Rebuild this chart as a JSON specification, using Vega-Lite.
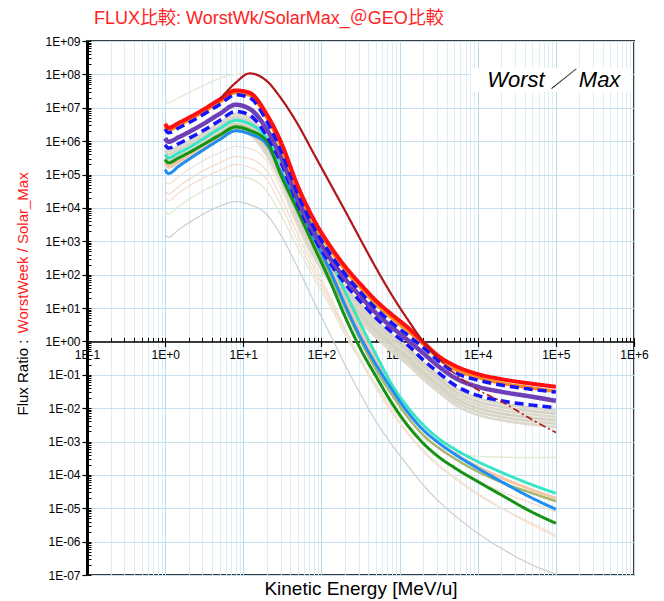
{
  "$schema": "https://vega.github.io/schema/vega-lite/v6.json",
  "width": 547,
  "height": 534,
  "autosize": {"type": "none"},
  "padding": {"left": 87, "top": 41, "right": 30, "bottom": 26},
  "background": "white",
  "config": {
    "view": {"stroke": "#3a3a3a", "strokeWidth": 2},
    "font": "Liberation Sans"
  },
  "title": {
    "text": "FLUX比較: WorstWk/SolarMax_＠GEO比較",
    "anchor": "start",
    "frame": "group",
    "dx": 7,
    "offset": 7,
    "color": "#ff2222",
    "fontSize": 18,
    "fontWeight": "normal",
    "font": "Liberation Sans, Noto Sans CJK JP"
  },
  "datasets": {
    "curves": [
      {"s":"thin","e":1,"v":1580},{"s":"thin","e":1.1,"v":1320},{"s":"thin","e":1.5,"v":2240},{"s":"thin","e":2,"v":3550},{"s":"thin","e":3,"v":6310},{"s":"thin","e":5,"v":11200},{"s":"thin","e":8,"v":15500},{"s":"thin","e":12,"v":12600},{"s":"thin","e":20,"v":6310},{"s":"thin","e":30,"v":1580},{"s":"thin","e":50,"v":158},{"s":"thin","e":80,"v":15.8},{"s":"thin","e":130,"v":1.58},{"s":"thin","e":200,"v":0.2},{"s":"thin","e":320,"v":0.0251},{"s":"thin","e":500,"v":0.00398},{"s":"thin","e":800,"v":7.94e-4},{"s":"thin","e":1300,"v":1.78e-4},{"s":"thin","e":2000,"v":5.01e-5},{"s":"thin","e":3200,"v":1.58e-5},{"s":"thin","e":5000,"v":6.31e-6},{"s":"thin","e":10000,"v":1.78e-6},{"s":"thin","e":20000,"v":6.31e-7},{"s":"thin","e":50000,"v":2.0e-7},{"s":"thin","e":100000,"v":1.05e-7},

      {"s":"f4","e":1,"v":2.0e4},{"s":"f4","e":1.1,"v":1.66e4},{"s":"f4","e":1.5,"v":2.82e4},{"s":"f4","e":2,"v":4.47e4},{"s":"f4","e":3,"v":7.59e4},{"s":"f4","e":5,"v":1.32e5},{"s":"f4","e":8,"v":2.0e5},{"s":"f4","e":12,"v":1.66e5},{"s":"f4","e":20,"v":7.08e4},{"s":"f4","e":30,"v":1.26e4},{"s":"f4","e":50,"v":1000},{"s":"f4","e":80,"v":112},{"s":"f4","e":130,"v":14.1},{"s":"f4","e":200,"v":2.0},{"s":"f4","e":320,"v":0.251},{"s":"f4","e":500,"v":0.0398},{"s":"f4","e":800,"v":0.00708},{"s":"f4","e":1300,"v":0.00158},{"s":"f4","e":2000,"v":5.01e-4},{"s":"f4","e":3200,"v":1.78e-4},{"s":"f4","e":5000,"v":7.94e-5},{"s":"f4","e":10000,"v":2.51e-5},{"s":"f4","e":20000,"v":1.0e-5},{"s":"f4","e":50000,"v":3.16e-6},{"s":"f4","e":100000,"v":1.41e-6},

      {"s":"f3","e":1,"v":3.16e4},{"s":"f3","e":1.1,"v":2.63e4},{"s":"f3","e":1.5,"v":4.47e4},{"s":"f3","e":2,"v":7.08e4},{"s":"f3","e":3,"v":1.26e5},{"s":"f3","e":5,"v":2.24e5},{"s":"f3","e":8,"v":3.47e5},{"s":"f3","e":12,"v":3.02e5},{"s":"f3","e":20,"v":1.26e5},{"s":"f3","e":30,"v":2.24e4},{"s":"f3","e":50,"v":1580},{"s":"f3","e":80,"v":158},{"s":"f3","e":130,"v":17.8},{"s":"f3","e":200,"v":2.24},{"s":"f3","e":320,"v":0.282},{"s":"f3","e":500,"v":0.0501},{"s":"f3","e":800,"v":0.01},{"s":"f3","e":1300,"v":0.00251},{"s":"f3","e":2000,"v":8.91e-4},{"s":"f3","e":3200,"v":3.55e-4},{"s":"f3","e":5000,"v":1.78e-4},{"s":"f3","e":10000,"v":7.08e-5},{"s":"f3","e":20000,"v":3.16e-5},{"s":"f3","e":50000,"v":1.41e-5},{"s":"f3","e":100000,"v":7.94e-6},

      {"s":"f5","e":1,"v":7940},{"s":"f5","e":1.1,"v":6610},{"s":"f5","e":1.5,"v":1.12e4},{"s":"f5","e":2,"v":1.78e4},{"s":"f5","e":3,"v":3.16e4},{"s":"f5","e":5,"v":5.62e4},{"s":"f5","e":8,"v":8.71e4},{"s":"f5","e":12,"v":7.59e4},{"s":"f5","e":20,"v":3.16e4},{"s":"f5","e":30,"v":6310},{"s":"f5","e":50,"v":631},{"s":"f5","e":80,"v":79.4},{"s":"f5","e":130,"v":11.2},{"s":"f5","e":200,"v":1.58},{"s":"f5","e":320,"v":0.251},{"s":"f5","e":500,"v":0.0501},{"s":"f5","e":800,"v":0.0112},{"s":"f5","e":1300,"v":0.00316},{"s":"f5","e":2000,"v":0.00126},{"s":"f5","e":3200,"v":6.76e-4},{"s":"f5","e":5000,"v":4.68e-4},{"s":"f5","e":10000,"v":3.63e-4},{"s":"f5","e":20000,"v":3.39e-4},{"s":"f5","e":50000,"v":3.31e-4},{"s":"f5","e":100000,"v":3.31e-4},

      {"s":"f2","e":1,"v":6.31e4},{"s":"f2","e":1.1,"v":5.25e4},{"s":"f2","e":1.5,"v":8.91e4},{"s":"f2","e":2,"v":1.41e5},{"s":"f2","e":3,"v":2.51e5},{"s":"f2","e":5,"v":4.47e5},{"s":"f2","e":8,"v":6.92e5},{"s":"f2","e":12,"v":6.03e5},{"s":"f2","e":20,"v":2.51e5},{"s":"f2","e":30,"v":3.98e4},{"s":"f2","e":50,"v":2510},{"s":"f2","e":80,"v":224},{"s":"f2","e":130,"v":22.4},{"s":"f2","e":200,"v":2.51},{"s":"f2","e":320,"v":0.282},{"s":"f2","e":500,"v":0.0447},{"s":"f2","e":800,"v":0.00794},{"s":"f2","e":1300,"v":0.00178},{"s":"f2","e":2000,"v":5.62e-4},{"s":"f2","e":3200,"v":2.0e-4},{"s":"f2","e":5000,"v":8.91e-5},{"s":"f2","e":10000,"v":2.82e-5},{"s":"f2","e":20000,"v":1.05e-5},{"s":"f2","e":50000,"v":3.55e-6},{"s":"f2","e":100000,"v":1.58e-6},

      {"s":"f1","e":1,"v":1.74e7},{"s":"f1","e":1.1,"v":1.41e7},{"s":"f1","e":1.5,"v":2.0e7},{"s":"f1","e":2,"v":2.82e7},{"s":"f1","e":3,"v":4.47e7},{"s":"f1","e":5,"v":7.59e7},{"s":"f1","e":8,"v":1.0e8},{"s":"f1","e":12,"v":1.05e8},{"s":"f1","e":20,"v":6.31e7},{"s":"f1","e":30,"v":2.0e7},{"s":"f1","e":50,"v":3.16e6},{"s":"f1","e":80,"v":4.17e5},{"s":"f1","e":130,"v":5.25e4},{"s":"f1","e":200,"v":8320},{"s":"f1","e":320,"v":1070},{"s":"f1","e":500,"v":158},{"s":"f1","e":800,"v":24.0},{"s":"f1","e":1300,"v":4.17},{"s":"f1","e":2000,"v":0.708},{"s":"f1","e":3200,"v":0.251},{"s":"f1","e":5000,"v":0.112},{"s":"f1","e":10000,"v":0.0501},{"s":"f1","e":20000,"v":0.0316},{"s":"f1","e":50000,"v":0.02},{"s":"f1","e":100000,"v":0.0141},

      {"s":"g1","e":1,"v":6.46e5},{"s":"g1","e":1.1,"v":5.13e5},{"s":"g1","e":1.5,"v":7.08e5},{"s":"g1","e":2,"v":1.0e6},{"s":"g1","e":3,"v":1.66e6},{"s":"g1","e":5,"v":3.47e6},{"s":"g1","e":8,"v":6.46e6},{"s":"g1","e":12,"v":5.01e6},{"s":"g1","e":20,"v":1.17e6},{"s":"g1","e":30,"v":2.0e5},{"s":"g1","e":50,"v":1.05e4},{"s":"g1","e":80,"v":1100},{"s":"g1","e":130,"v":178},{"s":"g1","e":200,"v":44.7},{"s":"g1","e":320,"v":12.6},{"s":"g1","e":500,"v":4.17},{"s":"g1","e":800,"v":1.55},{"s":"g1","e":1300,"v":0.617},{"s":"g1","e":2000,"v":0.234},{"s":"g1","e":3200,"v":0.0933},{"s":"g1","e":5000,"v":0.0417},{"s":"g1","e":10000,"v":0.02},{"s":"g1","e":20000,"v":0.0138},{"s":"g1","e":50000,"v":0.0102},{"s":"g1","e":100000,"v":0.00851},

      {"s":"g2","e":1,"v":5.13e5},{"s":"g2","e":1.1,"v":4.07e5},{"s":"g2","e":1.5,"v":5.62e5},{"s":"g2","e":2,"v":7.94e5},{"s":"g2","e":3,"v":1.32e6},{"s":"g2","e":5,"v":2.75e6},{"s":"g2","e":8,"v":5.13e6},{"s":"g2","e":12,"v":3.98e6},{"s":"g2","e":20,"v":9.33e5},{"s":"g2","e":30,"v":1.58e5},{"s":"g2","e":50,"v":8320},{"s":"g2","e":80,"v":871},{"s":"g2","e":130,"v":141},{"s":"g2","e":200,"v":35.5},{"s":"g2","e":320,"v":10.0},{"s":"g2","e":500,"v":3.31},{"s":"g2","e":800,"v":1.23},{"s":"g2","e":1300,"v":0.49},{"s":"g2","e":2000,"v":0.186},{"s":"g2","e":3200,"v":0.0741},{"s":"g2","e":5000,"v":0.0331},{"s":"g2","e":10000,"v":0.0158},{"s":"g2","e":20000,"v":0.011},{"s":"g2","e":50000,"v":0.00813},{"s":"g2","e":100000,"v":0.00676},

      {"s":"g3","e":1,"v":4.07e5},{"s":"g3","e":1.1,"v":3.24e5},{"s":"g3","e":1.5,"v":4.47e5},{"s":"g3","e":2,"v":6.31e5},{"s":"g3","e":3,"v":1.05e6},{"s":"g3","e":5,"v":2.19e6},{"s":"g3","e":8,"v":4.07e6},{"s":"g3","e":12,"v":3.16e6},{"s":"g3","e":20,"v":7.41e5},{"s":"g3","e":30,"v":1.26e5},{"s":"g3","e":50,"v":6610},{"s":"g3","e":80,"v":692},{"s":"g3","e":130,"v":112},{"s":"g3","e":200,"v":28.2},{"s":"g3","e":320,"v":7.94},{"s":"g3","e":500,"v":2.63},{"s":"g3","e":800,"v":0.977},{"s":"g3","e":1300,"v":0.389},{"s":"g3","e":2000,"v":0.148},{"s":"g3","e":3200,"v":0.0589},{"s":"g3","e":5000,"v":0.0263},{"s":"g3","e":10000,"v":0.0126},{"s":"g3","e":20000,"v":0.00871},{"s":"g3","e":50000,"v":0.00646},{"s":"g3","e":100000,"v":0.00537},

      {"s":"g4","e":1,"v":3.24e5},{"s":"g4","e":1.1,"v":2.57e5},{"s":"g4","e":1.5,"v":3.55e5},{"s":"g4","e":2,"v":5.01e5},{"s":"g4","e":3,"v":8.32e5},{"s":"g4","e":5,"v":1.74e6},{"s":"g4","e":8,"v":3.24e6},{"s":"g4","e":12,"v":2.51e6},{"s":"g4","e":20,"v":5.89e5},{"s":"g4","e":30,"v":1.0e5},{"s":"g4","e":50,"v":5250},{"s":"g4","e":80,"v":550},{"s":"g4","e":130,"v":89.1},{"s":"g4","e":200,"v":22.4},{"s":"g4","e":320,"v":6.31},{"s":"g4","e":500,"v":2.09},{"s":"g4","e":800,"v":0.776},{"s":"g4","e":1300,"v":0.309},{"s":"g4","e":2000,"v":0.117},{"s":"g4","e":3200,"v":0.0468},{"s":"g4","e":5000,"v":0.0209},{"s":"g4","e":10000,"v":0.01},{"s":"g4","e":20000,"v":0.00692},{"s":"g4","e":50000,"v":0.00513},{"s":"g4","e":100000,"v":0.00427},

      {"s":"g5","e":1,"v":2.57e5},{"s":"g5","e":1.1,"v":2.04e5},{"s":"g5","e":1.5,"v":2.82e5},{"s":"g5","e":2,"v":3.98e5},{"s":"g5","e":3,"v":6.61e5},{"s":"g5","e":5,"v":1.38e6},{"s":"g5","e":8,"v":2.57e6},{"s":"g5","e":12,"v":2.0e6},{"s":"g5","e":20,"v":4.68e5},{"s":"g5","e":30,"v":7.94e4},{"s":"g5","e":50,"v":4170},{"s":"g5","e":80,"v":437},{"s":"g5","e":130,"v":70.8},{"s":"g5","e":200,"v":17.8},{"s":"g5","e":320,"v":5.01},{"s":"g5","e":500,"v":1.66},{"s":"g5","e":800,"v":0.617},{"s":"g5","e":1300,"v":0.245},{"s":"g5","e":2000,"v":0.0933},{"s":"g5","e":3200,"v":0.0372},{"s":"g5","e":5000,"v":0.0166},{"s":"g5","e":10000,"v":0.00794},{"s":"g5","e":20000,"v":0.0055},{"s":"g5","e":50000,"v":0.00407},{"s":"g5","e":100000,"v":0.00339},

      {"s":"g6","e":1,"v":2.04e5},{"s":"g6","e":1.1,"v":1.62e5},{"s":"g6","e":1.5,"v":2.24e5},{"s":"g6","e":2,"v":3.16e5},{"s":"g6","e":3,"v":5.25e5},{"s":"g6","e":5,"v":1.1e6},{"s":"g6","e":8,"v":2.04e6},{"s":"g6","e":12,"v":1.58e6},{"s":"g6","e":20,"v":3.72e5},{"s":"g6","e":30,"v":6.31e4},{"s":"g6","e":50,"v":3310},{"s":"g6","e":80,"v":347},{"s":"g6","e":130,"v":56.2},{"s":"g6","e":200,"v":14.1},{"s":"g6","e":320,"v":3.98},{"s":"g6","e":500,"v":1.32},{"s":"g6","e":800,"v":0.49},{"s":"g6","e":1300,"v":0.195},{"s":"g6","e":2000,"v":0.0741},{"s":"g6","e":3200,"v":0.0295},{"s":"g6","e":5000,"v":0.0132},{"s":"g6","e":10000,"v":0.00631},{"s":"g6","e":20000,"v":0.00437},{"s":"g6","e":50000,"v":0.00324},{"s":"g6","e":100000,"v":0.00269},

      {"s":"pe","e":1,"v":2.24e5},{"s":"pe","e":1.1,"v":1.78e5},{"s":"pe","e":1.5,"v":2.51e5},{"s":"pe","e":2,"v":3.55e5},{"s":"pe","e":3,"v":6.03e5},{"s":"pe","e":5,"v":1.2e6},{"s":"pe","e":8,"v":2.09e6},{"s":"pe","e":12,"v":1.66e6},{"s":"pe","e":20,"v":7.08e5},{"s":"pe","e":30,"v":1.41e5},{"s":"pe","e":50,"v":1.58e4},{"s":"pe","e":80,"v":1780},{"s":"pe","e":130,"v":200},{"s":"pe","e":200,"v":20.0},{"s":"pe","e":320,"v":2.0},{"s":"pe","e":500,"v":0.251},{"s":"pe","e":800,"v":0.0355},{"s":"pe","e":1300,"v":0.00708},{"s":"pe","e":2000,"v":0.00224},{"s":"pe","e":3200,"v":8.91e-4},{"s":"pe","e":5000,"v":4.47e-4},{"s":"pe","e":10000,"v":1.78e-4},{"s":"pe","e":20000,"v":8.32e-5},{"s":"pe","e":50000,"v":3.55e-5},{"s":"pe","e":100000,"v":2.0e-5},

      {"s":"k","e":1,"v":2.82e5},{"s":"k","e":1.1,"v":2.24e5},{"s":"k","e":1.5,"v":3.16e5},{"s":"k","e":2,"v":4.47e5},{"s":"k","e":3,"v":7.94e5},{"s":"k","e":5,"v":1.58e6},{"s":"k","e":8,"v":2.82e6},{"s":"k","e":12,"v":2.24e6},{"s":"k","e":20,"v":8.91e5},{"s":"k","e":30,"v":1.12e5},{"s":"k","e":50,"v":1.0e4},{"s":"k","e":80,"v":1000},{"s":"k","e":130,"v":100},{"s":"k","e":200,"v":10},{"s":"k","e":320,"v":1.0},{"s":"k","e":500,"v":0.141},{"s":"k","e":800,"v":0.0251},{"s":"k","e":1300,"v":0.00501},{"s":"k","e":2000,"v":0.00158},{"s":"k","e":3200,"v":6.31e-4},{"s":"k","e":5000,"v":3.16e-4},{"s":"k","e":10000,"v":1.26e-4},{"s":"k","e":20000,"v":6.03e-5},{"s":"k","e":50000,"v":2.82e-5},{"s":"k","e":100000,"v":1.62e-5},

      {"s":"t","e":1,"v":3.98e5},{"s":"t","e":1.1,"v":3.16e5},{"s":"t","e":1.5,"v":4.47e5},{"s":"t","e":2,"v":6.31e5},{"s":"t","e":3,"v":1.12e6},{"s":"t","e":5,"v":2.4e6},{"s":"t","e":8,"v":4.17e6},{"s":"t","e":12,"v":3.31e6},{"s":"t","e":20,"v":1.26e6},{"s":"t","e":30,"v":2.24e5},{"s":"t","e":50,"v":2.24e4},{"s":"t","e":80,"v":2510},{"s":"t","e":130,"v":282},{"s":"t","e":200,"v":31.6},{"s":"t","e":320,"v":3.16},{"s":"t","e":500,"v":0.398},{"s":"t","e":800,"v":0.0501},{"s":"t","e":1300,"v":0.01},{"s":"t","e":2000,"v":0.00316},{"s":"t","e":3200,"v":0.0012},{"s":"t","e":5000,"v":6.03e-4},{"s":"t","e":10000,"v":2.51e-4},{"s":"t","e":20000,"v":1.2e-4},{"s":"t","e":50000,"v":5.01e-5},{"s":"t","e":100000,"v":2.82e-5},

      {"s":"db","e":1,"v":1.41e5},{"s":"db","e":1.1,"v":1.07e5},{"s":"db","e":1.5,"v":1.78e5},{"s":"db","e":2,"v":2.82e5},{"s":"db","e":3,"v":5.25e5},{"s":"db","e":5,"v":1.12e6},{"s":"db","e":8,"v":2.04e6},{"s":"db","e":12,"v":1.66e6},{"s":"db","e":20,"v":7.94e5},{"s":"db","e":30,"v":1.26e5},{"s":"db","e":50,"v":1.26e4},{"s":"db","e":80,"v":1260},{"s":"db","e":130,"v":126},{"s":"db","e":200,"v":12.6},{"s":"db","e":320,"v":1.26},{"s":"db","e":500,"v":0.2},{"s":"db","e":800,"v":0.0355},{"s":"db","e":1300,"v":0.00708},{"s":"db","e":2000,"v":0.00224},{"s":"db","e":3200,"v":8.91e-4},{"s":"db","e":5000,"v":4.27e-4},{"s":"db","e":10000,"v":1.58e-4},{"s":"db","e":20000,"v":6.31e-5},{"s":"db","e":50000,"v":2.0e-5},{"s":"db","e":100000,"v":9.33e-6},

      {"s":"gr","e":1,"v":2.82e5},{"s":"gr","e":1.1,"v":2.24e5},{"s":"gr","e":1.5,"v":3.16e5},{"s":"gr","e":2,"v":4.47e5},{"s":"gr","e":3,"v":7.59e5},{"s":"gr","e":5,"v":1.51e6},{"s":"gr","e":8,"v":2.63e6},{"s":"gr","e":12,"v":2.09e6},{"s":"gr","e":20,"v":1.0e6},{"s":"gr","e":30,"v":1.0e5},{"s":"gr","e":50,"v":7940},{"s":"gr","e":80,"v":708},{"s":"gr","e":130,"v":60.3},{"s":"gr","e":200,"v":5.62},{"s":"gr","e":320,"v":0.562},{"s":"gr","e":500,"v":0.0891},{"s":"gr","e":800,"v":0.0141},{"s":"gr","e":1300,"v":0.00282},{"s":"gr","e":2000,"v":8.91e-4},{"s":"gr","e":3200,"v":3.39e-4},{"s":"gr","e":5000,"v":1.66e-4},{"s":"gr","e":10000,"v":6.31e-5},{"s":"gr","e":20000,"v":2.51e-5},{"s":"gr","e":50000,"v":7.59e-6},{"s":"gr","e":100000,"v":3.55e-6},

      {"s":"b2","e":1,"v":7.76e5},{"s":"b2","e":1.1,"v":6.17e5},{"s":"b2","e":1.5,"v":8.51e5},{"s":"b2","e":2,"v":1.2e6},{"s":"b2","e":3,"v":2.0e6},{"s":"b2","e":5,"v":4.17e6},{"s":"b2","e":8,"v":7.76e6},{"s":"b2","e":12,"v":6.03e6},{"s":"b2","e":20,"v":1.41e6},{"s":"b2","e":30,"v":2.4e5},{"s":"b2","e":50,"v":1.26e4},{"s":"b2","e":80,"v":1320},{"s":"b2","e":130,"v":214},{"s":"b2","e":200,"v":53.7},{"s":"b2","e":320,"v":15.1},{"s":"b2","e":500,"v":5.01},{"s":"b2","e":800,"v":1.86},{"s":"b2","e":1300,"v":0.741},{"s":"b2","e":2000,"v":0.282},{"s":"b2","e":3200,"v":0.112},{"s":"b2","e":5000,"v":0.0501},{"s":"b2","e":10000,"v":0.024},{"s":"b2","e":20000,"v":0.0166},{"s":"b2","e":50000,"v":0.0123},{"s":"b2","e":100000,"v":0.0102},

      {"s":"p","e":1,"v":1.23e6},{"s":"p","e":1.1,"v":9.55e5},{"s":"p","e":1.5,"v":1.32e6},{"s":"p","e":2,"v":1.86e6},{"s":"p","e":3,"v":3.16e6},{"s":"p","e":5,"v":6.61e6},{"s":"p","e":8,"v":1.23e7},{"s":"p","e":12,"v":9.33e6},{"s":"p","e":20,"v":2.24e6},{"s":"p","e":30,"v":3.55e5},{"s":"p","e":50,"v":1.78e4},{"s":"p","e":80,"v":1860},{"s":"p","e":130,"v":302},{"s":"p","e":200,"v":75.9},{"s":"p","e":320,"v":21.4},{"s":"p","e":500,"v":7.08},{"s":"p","e":800,"v":2.63},{"s":"p","e":1300,"v":1.05},{"s":"p","e":2000,"v":0.447},{"s":"p","e":3200,"v":0.174},{"s":"p","e":5000,"v":0.0832},{"s":"p","e":10000,"v":0.0437},{"s":"p","e":20000,"v":0.0309},{"s":"p","e":50000,"v":0.0219},{"s":"p","e":100000,"v":0.0166},

      {"s":"o","e":1,"v":2.82e6},{"s":"o","e":1.1,"v":2.14e6},{"s":"o","e":1.5,"v":3.02e6},{"s":"o","e":2,"v":4.27e6},{"s":"o","e":3,"v":7.24e6},{"s":"o","e":5,"v":1.51e7},{"s":"o","e":8,"v":2.82e7},{"s":"o","e":12,"v":2.4e7},{"s":"o","e":20,"v":5.01e6},{"s":"o","e":30,"v":7.59e5},{"s":"o","e":50,"v":3.55e4},{"s":"o","e":80,"v":3550},{"s":"o","e":130,"v":562},{"s":"o","e":200,"v":141},{"s":"o","e":320,"v":39.8},{"s":"o","e":500,"v":13.2},{"s":"o","e":800,"v":5.01},{"s":"o","e":1300,"v":2.0},{"s":"o","e":2000,"v":0.832},{"s":"o","e":3200,"v":0.302},{"s":"o","e":5000,"v":0.151},{"s":"o","e":10000,"v":0.0832},{"s":"o","e":20000,"v":0.0562},{"s":"o","e":50000,"v":0.0398},{"s":"o","e":100000,"v":0.0316},

      {"s":"b1","e":1,"v":2.34e6},{"s":"b1","e":1.1,"v":1.78e6},{"s":"b1","e":1.5,"v":2.51e6},{"s":"b1","e":2,"v":3.55e6},{"s":"b1","e":3,"v":6.03e6},{"s":"b1","e":5,"v":1.26e7},{"s":"b1","e":8,"v":2.45e7},{"s":"b1","e":12,"v":2.0e7},{"s":"b1","e":20,"v":3.98e6},{"s":"b1","e":30,"v":5.62e5},{"s":"b1","e":50,"v":2.63e4},{"s":"b1","e":80,"v":2630},{"s":"b1","e":130,"v":417},{"s":"b1","e":200,"v":105},{"s":"b1","e":320,"v":28.8},{"s":"b1","e":500,"v":9.55},{"s":"b1","e":800,"v":3.55},{"s":"b1","e":1300,"v":1.48},{"s":"b1","e":2000,"v":0.661},{"s":"b1","e":3200,"v":0.251},{"s":"b1","e":5000,"v":0.12},{"s":"b1","e":10000,"v":0.0692},{"s":"b1","e":20000,"v":0.049},{"s":"b1","e":50000,"v":0.0363},{"s":"b1","e":100000,"v":0.0302},

      {"s":"r","e":1,"v":3.31e6},{"s":"r","e":1.1,"v":2.51e6},{"s":"r","e":1.5,"v":3.55e6},{"s":"r","e":2,"v":5.01e6},{"s":"r","e":3,"v":8.51e6},{"s":"r","e":5,"v":1.78e7},{"s":"r","e":8,"v":3.31e7},{"s":"r","e":12,"v":2.82e7},{"s":"r","e":20,"v":6.31e6},{"s":"r","e":30,"v":1.0e6},{"s":"r","e":50,"v":4.47e4},{"s":"r","e":80,"v":4470},{"s":"r","e":130,"v":708},{"s":"r","e":200,"v":178},{"s":"r","e":320,"v":50.1},{"s":"r","e":500,"v":16.6},{"s":"r","e":800,"v":6.31},{"s":"r","e":1300,"v":2.51},{"s":"r","e":2000,"v":0.955},{"s":"r","e":3200,"v":0.355},{"s":"r","e":5000,"v":0.191},{"s":"r","e":10000,"v":0.105},{"s":"r","e":20000,"v":0.0741},{"s":"r","e":50000,"v":0.0537},{"s":"r","e":100000,"v":0.0437},

      {"s":"m","e":5,"v":1.78e7},{"s":"m","e":8,"v":5.62e7},{"s":"m","e":12,"v":1.07e8},{"s":"m","e":20,"v":6.31e7},{"s":"m","e":30,"v":2.0e7},{"s":"m","e":50,"v":3.16e6},{"s":"m","e":80,"v":4.17e5},{"s":"m","e":130,"v":5.25e4},{"s":"m","e":200,"v":8320},{"s":"m","e":320,"v":1070},{"s":"m","e":500,"v":158},{"s":"m","e":800,"v":24.0},{"s":"m","e":1300,"v":4.17},{"s":"m","e":2000,"v":1.0},{"s":"m","e":3200,"v":0.302},

      {"s":"md","e":3200,"v":0.302},{"s":"md","e":5000,"v":0.112},{"s":"md","e":10000,"v":0.0355},{"s":"md","e":20000,"v":0.0158},{"s":"md","e":50000,"v":0.00447},{"s":"md","e":100000,"v":0.00186}
    ],
    "box": [
      {"e0": 8100, "e1": 910000, "v0": 2.95e7, "v1": 1.55e8}
    ],
    "note": [
      {"e": 94000, "v": 6.8e7, "label": "Worst ／ Max"}
    ]
  },
  "layer": [
    {
      "data": {"name": "curves"},
      "mark": {"type": "line", "interpolate": "monotone", "clip": true},
      "encoding": {
        "x": {
          "field": "e", "type": "quantitative",
          "scale": {"type": "log", "domain": [0.1, 1000000], "nice": false},
          "axis": {
            "orient": "bottom",
            "offset": -233.6,
            "values": [0.1, 1, 10, 100, 1000, 10000, 100000, 1000000],
            "labelExpr": "'1E' + (round(log(datum.value)/LN10) < 0 ? '-' : '+') + abs(round(log(datum.value)/LN10))",
            "grid": false,
            "tickSize": 5,
            "tickColor": "#000",
            "tickWidth": 1.2,
            "domainColor": "#000",
            "domainWidth": 1.5,
            "labelFont": "Liberation Sans",
            "labelFontSize": 12,
            "labelColor": "#000",
            "labelPadding": 3,
            "labelOverlap": false,
            "labelFlush": false,
            "labelBound": false,
            "title": "Kinetic Energy [MeV/u]",
            "titleFont": "Liberation Sans",
            "titleFontSize": 19,
            "titleFontWeight": "normal",
            "titleColor": "#000",
            "titleBaseline": "top",
            "titleY": 238
          }
        },
        "y": {
          "field": "v", "type": "quantitative",
          "scale": {"type": "log", "domain": [1e-7, 1e9], "nice": false},
          "axis": {
            "orient": "left",
            "values": [1e-7, 1e-6, 1e-5, 1e-4, 1e-3, 1e-2, 1e-1, 1, 10, 100, 1000, 10000, 100000, 1000000, 10000000, 100000000, 1000000000],
            "labelExpr": "'1E' + (round(log(datum.value)/LN10) < 0 ? '-' : '+') + (abs(round(log(datum.value)/LN10)) < 10 ? '0' : '') + abs(round(log(datum.value)/LN10))",
            "grid": true,
            "gridColor": "#c4e1ed",
            "gridWidth": 1,
            "tickSize": 5,
            "tickColor": "#000",
            "tickWidth": 1.2,
            "domainColor": "#000",
            "domainWidth": 3,
            "labelFont": "Liberation Sans",
            "labelFontSize": 12,
            "labelColor": "#000",
            "labelPadding": 2,
            "labelOverlap": false,
            "labelBound": false,
            "title": "WorstWeek / Solar_Max",
            "titleFont": "Liberation Sans",
            "titleFontSize": 15,
            "titleFontWeight": "normal",
            "titleColor": "#ff2020",
            "titleAngle": 270,
            "titleAlign": "left",
            "titleBaseline": "middle",
            "titleX": -65,
            "titleY": 292
          }
        },
        "color": {
          "field": "s", "type": "nominal", "legend": null,
          "scale": {
            "domain": ["thin","f4","f3","f5","f2","f1","g1","g2","g3","g4","g5","g6","pe","k","t","db","gr","b2","p","o","b1","r","m","md"],
            "range": ["#cdcdcd","#f6dccc","#f3d9c6","#e3ead3","#efe3d3","#e8ead6","#dad6c8","#d6d3c4","#dcd8ca","#d4d1c2","#d9d5c7","#dddacd","#f5c6a6","#a9b56c","#38e6c6","#1e8ff2","#149214","#1414ff","#6e3fb6","#ff8a1c","#1414ff","#ff1010","#b3161a","#b3161a"]
          }
        },
        "strokeWidth": {
          "field": "s", "type": "nominal", "legend": null,
          "scale": {
            "type": "ordinal",
            "domain": ["thin","f4","f3","f5","f2","f1","g1","g2","g3","g4","g5","g6","pe","k","t","db","gr","b2","p","o","b1","r","m","md"],
            "range": [1.2,1.2,1.2,1.5,1.2,1.5,2.8,2.8,2.8,2.8,2.8,2.8,3,2.5,3,3,3,3.5,4.5,3.5,3.5,4,2.2,1.6]
          }
        },
        "strokeDash": {
          "field": "s", "type": "nominal", "legend": null,
          "scale": {
            "domain": ["thin","f4","f3","f5","f2","f1","g1","g2","g3","g4","g5","g6","pe","k","t","db","gr","b2","p","o","b1","r","m","md"],
            "range": [[1,0],[1,0],[1,0],[1,0],[1,0],[1,0],[1,0],[1,0],[1,0],[1,0],[1,0],[1,0],[1,0],[1,0],[1,0],[1,0],[1,0],[9,5],[1,0],[1,0],[9,5],[1,0],[1,0],[7,3,2,3]]
          }
        }
      }
    },
    {
      "data": {"name": "box"},
      "mark": {"type": "rect", "fill": "white", "stroke": null},
      "encoding": {
        "x": {"field": "e0", "type": "quantitative", "scale": {"type": "log", "domain": [0.1, 1000000], "nice": false}, "axis": null},
        "x2": {"field": "e1"},
        "y": {"field": "v0", "type": "quantitative", "scale": {"type": "log", "domain": [1e-7, 1e9], "nice": false}, "axis": null},
        "y2": {"field": "v1"}
      }
    },
    {
      "data": {"name": "note"},
      "mark": {"type": "text", "fontSize": 22, "fontStyle": "italic", "font": "Liberation Sans, Noto Sans CJK JP", "color": "#000", "align": "center", "baseline": "middle"},
      "encoding": {
        "x": {
          "field": "e", "type": "quantitative",
          "scale": {"type": "log", "domain": [0.1, 1000000], "nice": false},
          "axis": {
            "orient": "bottom",
            "offset": -233.6,
            "values": [0.1,0.2,0.3,0.4,0.5,0.6,0.7,0.8,0.9,1,2,3,4,5,6,7,8,9,10,20,30,40,50,60,70,80,90,100,200,300,400,500,600,700,800,900,1000,2000,3000,4000,5000,6000,7000,8000,9000,10000,20000,30000,40000,50000,60000,70000,80000,90000,100000,200000,300000,400000,500000,600000,700000,800000,900000,1000000],
            "labels": false,
            "domain": false,
            "tickSize": -4,
            "tickColor": "#000",
            "tickWidth": 1,
            "grid": true,
            "gridColor": {"condition": {"test": "abs(log(datum.value)/LN10 - round(log(datum.value)/LN10)) < 0.001", "value": "#b8daea"}, "value": "#dcedf5"},
            "gridWidth": 1,
            "title": null
          }
        },
        "y": {
          "field": "v", "type": "quantitative",
          "scale": {"type": "log", "domain": [1e-7, 1e9], "nice": false},
          "axis": {
            "orient": "left",
            "values": [1e-7,2e-7,3e-7,4e-7,5e-7,6e-7,7e-7,8e-7,9e-7,1e-6,2e-6,3e-6,4e-6,5e-6,6e-6,7e-6,8e-6,9e-6,1e-5,2e-5,3e-5,4e-5,5e-5,6e-5,7e-5,8e-5,9e-5,1e-4,2e-4,3e-4,4e-4,5e-4,6e-4,7e-4,8e-4,9e-4,1e-3,2e-3,3e-3,4e-3,5e-3,6e-3,7e-3,8e-3,9e-3,1e-2,2e-2,3e-2,4e-2,5e-2,6e-2,7e-2,8e-2,9e-2,0.1,0.2,0.3,0.4,0.5,0.6,0.7,0.8,0.9,1,2,3,4,5,6,7,8,9,10,20,30,40,50,60,70,80,90,100,200,300,400,500,600,700,800,900,1e3,2e3,3e3,4e3,5e3,6e3,7e3,8e3,9e3,1e4,2e4,3e4,4e4,5e4,6e4,7e4,8e4,9e4,1e5,2e5,3e5,4e5,5e5,6e5,7e5,8e5,9e5,1e6,2e6,3e6,4e6,5e6,6e6,7e6,8e6,9e6,1e7,2e7,3e7,4e7,5e7,6e7,7e7,8e7,9e7,1e8,2e8,3e8,4e8,5e8,6e8,7e8,8e8,9e8,1e9],
            "labels": false,
            "domain": false,
            "grid": false,
            "tickSize": -4,
            "tickColor": "#000",
            "tickWidth": 1,
            "title": "Flux Ratio :",
            "titleFont": "Liberation Sans",
            "titleFontSize": 15,
            "titleFontWeight": "normal",
            "titleColor": "#000",
            "titleAngle": 270,
            "titleAlign": "left",
            "titleBaseline": "middle",
            "titleX": -65,
            "titleY": 374
          }
        },
        "text": {"field": "label", "type": "nominal"}
      }
    }
  ],
  "resolve": {"axis": {"x": "independent", "y": "independent"}}
}
